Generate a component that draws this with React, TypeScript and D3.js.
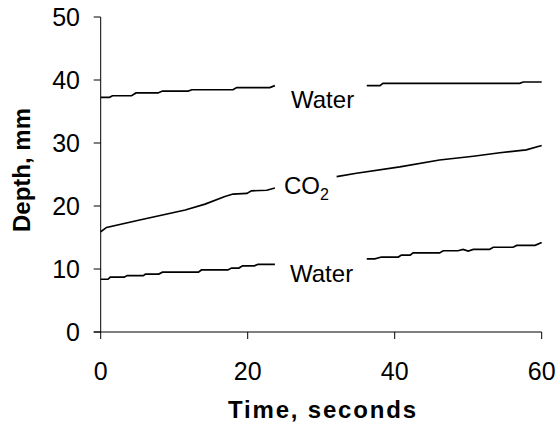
import React from "react";
import * as d3 from "d3";

const xTicks = [0, 20, 40, 60];
const yTicks = [0, 10, 20, 30, 40, 50];

// Upper water boundary
const waterTopT1 = [0, 1.2, 1.6, 4.2, 4.8, 7.8, 8.4, 11.9, 12.4, 18.0, 18.5, 23.0, 23.7];
const waterTopD1 = [37.25, 37.25, 37.5, 37.5, 37.95, 37.95, 38.25, 38.25, 38.45, 38.45, 38.8, 38.8, 39.1];
const waterTopT2 = [36.2, 38.0, 38.4, 57.0, 57.5, 60];
const waterTopD2 = [39.1, 39.1, 39.47, 39.47, 39.68, 39.68];

// CO2 boundary
const co2T1 = [0, 0.8, 5.3, 11.5, 14.2, 16.9, 18.0, 19.9, 20.5, 22.6, 23.7];
const co2D1 = [15.92, 16.6, 17.78, 19.37, 20.3, 21.5, 21.9, 22.0, 22.4, 22.5, 22.86];
const co2T2 = [32.1, 34.8, 40.7, 46.1, 50.7, 54.3, 57.9, 60];
const co2D2 = [24.65, 25.2, 26.2, 27.3, 27.9, 28.45, 28.9, 29.6];

// Lower water boundary
const waterBotT1 = [0, 1.0, 1.3, 3.2, 3.6, 5.8, 6.1, 7.9, 8.4, 13.3, 13.7, 17.3, 17.8, 18.8, 19.3, 20.9, 21.4, 23.7];
const waterBotD1 = [8.37, 8.37, 8.7, 8.7, 8.95, 8.95, 9.2, 9.2, 9.5, 9.5, 9.85, 9.85, 10.15, 10.15, 10.5, 10.5, 10.75, 10.75];
const waterBotT2 = [36.2, 37.3, 38.2, 40.5, 40.9, 42.1, 42.5, 46.1, 46.6, 48.6, 49.3, 50.0, 50.7, 52.9, 53.4, 56.1, 56.6, 59.1, 60];
const waterBotD2 = [11.6, 11.6, 11.9, 11.9, 12.2, 12.2, 12.55, 12.55, 12.9, 12.9, 13.1, 12.85, 13.1, 13.1, 13.45, 13.45, 13.75, 13.75, 14.2];

const segments: [number[], number[]][] = [
  [waterTopT1, waterTopD1],
  [waterTopT2, waterTopD2],
  [co2T1, co2D1],
  [co2T2, co2D2],
  [waterBotT1, waterBotD1],
  [waterBotT2, waterBotD2],
];

const FONT = "'Liberation Sans', Arial, sans-serif";

export default function App() {
  const x = d3.scaleLinear().domain([0, 60]).range([100.7, 541.7]);
  const y = d3.scaleLinear().domain([0, 50]).range([332, 17]);
  const line = d3
    .line<[number, number]>()
    .x((p) => x(p[0]))
    .y((p) => y(p[1]));

  return (
    <svg
      width={556}
      height={431}
      style={{ position: "absolute", left: 0, top: 0, background: "#fff" }}
      fontFamily={FONT}
    >
      {/* axes */}
      <line x1={x(0)} x2={x(0)} y1={y(50)} y2={y(0)} stroke="#000" strokeWidth={1} />
      <line x1={x(0) - 7} x2={x(60)} y1={y(0)} y2={y(0)} stroke="#000" strokeWidth={1} />
      {yTicks.map((t) => (
        <g key={"y" + t}>
          <line x1={x(0) - 7} x2={x(0)} y1={y(t)} y2={y(t)} stroke="#000" strokeWidth={1} />
          <text x={80} y={y(t)} textAnchor="end" dominantBaseline="central" fontSize={25}>
            {t}
          </text>
        </g>
      ))}
      {xTicks.map((t) => (
        <g key={"x" + t}>
          <line x1={x(t)} x2={x(t)} y1={y(0)} y2={y(0) + 7} stroke="#000" strokeWidth={1} />
          <text x={x(t)} y={380} textAnchor="middle" fontSize={25}>
            {t}
          </text>
        </g>
      ))}
      <text
        x={322}
        y={418}
        textAnchor="middle"
        fontSize={24}
        fontWeight="bold"
        textLength={188}
        lengthAdjust="spacing"
      >
        Time, seconds
      </text>
      <text
        transform="translate(30,170) rotate(-90)"
        textAnchor="middle"
        fontSize={24}
        fontWeight="bold"
      >
        Depth, mm
      </text>

      {/* data lines */}
      {segments.map(([ts, ds], i) => (
        <path
          key={i}
          d={line(ts.map((t, j) => [t, ds[j]] as [number, number])) || ""}
          fill="none"
          stroke="#000"
          strokeWidth={1.7}
        />
      ))}

      {/* labels */}
      <text x={291} y={108} fontSize={24}>Water</text>
      <text x={284} y={193.5} fontSize={24}>
        CO<tspan fontSize={16} dy={6}>2</tspan>
      </text>
      <text x={290} y={281.5} fontSize={24}>Water</text>
    </svg>
  );
}
